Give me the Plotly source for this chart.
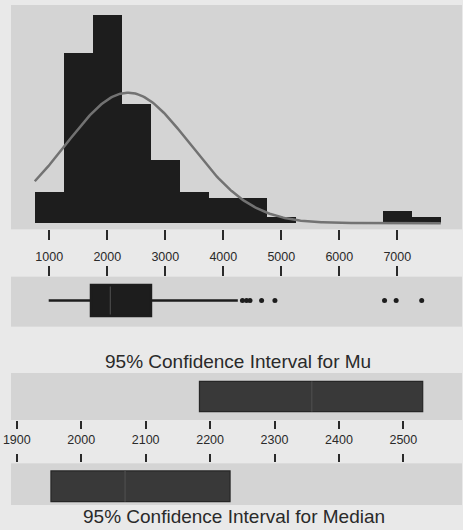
import numpy as np
import plotly.graph_objects as go

# ---------------- data ----------------
bin_centers = [1000, 1500, 2000, 2500, 3000, 3500, 4000, 4500, 5000, 5500, 6000, 6500, 7000, 7500]
bin_counts = [5, 27, 33, 19, 10, 5, 4, 4, 1, 0, 0, 0, 2, 1]
bin_width = 500

# fitted normal curve parameters
fit_mean = 2358
fit_sd = 1068
fit_n = sum(bin_counts)
curve_from, curve_to = 750, 7750

# box plot statistics
box_q1 = 1719
box_median = 2052
box_q3 = 2753
box_low = 990
box_high = 4250
outliers = [4330, 4400, 4460, 4660, 4890, 6780, 6980, 7420]

# confidence intervals
mu_ci = [2183.5, 2530]
mu_est = 2358
med_ci = [1953, 2231]
med_est = 2068

hist_ticks = [1000, 2000, 3000, 4000, 5000, 6000, 7000]
ci_ticks = [1900, 2000, 2100, 2200, 2300, 2400, 2500]

title_mu = "95% Confidence Interval for Mu"
title_med = "95% Confidence Interval for Median"

# ---------------- styling ----------------
W, H = 463, 530
PAPER = "#e9e9e9"
PANEL = "#d4d4d4"
BAR = "#1d1d1d"
CURVE = "#727272"
CIFILL = "#393939"
TXT = "#2a2a2a"
FONT = "Liberation Sans, Arial, sans-serif"


def py(pix):
    return 1 - pix / H


xdom = [11 / W, 462 / W]

fig = go.Figure()

# histogram
fig.add_trace(go.Bar(x=bin_centers, y=bin_counts, width=bin_width,
                     marker=dict(color=BAR, line=dict(width=0)),
                     xaxis="x", yaxis="y", showlegend=False))

# fitted normal curve
cx = np.linspace(curve_from, curve_to, 300)
cy = fit_n * bin_width / (fit_sd * np.sqrt(2 * np.pi)) * np.exp(-0.5 * ((cx - fit_mean) / fit_sd) ** 2)
fig.add_trace(go.Scatter(x=cx, y=cy, mode="lines", line=dict(color=CURVE, width=2.5),
                         xaxis="x", yaxis="y", showlegend=False))

# box plot
box_y = 0.05
box_w = 1.24
fig.add_trace(go.Box(q1=[box_q1], median=[box_median], q3=[box_q3],
                     lowerfence=[box_low], upperfence=[box_high], y=[box_y],
                     orientation="h", width=box_w, whiskerwidth=0,
                     fillcolor=BAR, line=dict(color=BAR, width=2.5),
                     xaxis="x2", yaxis="y2", showlegend=False, hoverinfo="skip"))
fig.add_trace(go.Scatter(x=[box_median, box_median], y=[box_y - box_w / 2 + 0.06, box_y + box_w / 2 - 0.06],
                         mode="lines", line=dict(color="#4a4a4a", width=1.2),
                         xaxis="x2", yaxis="y2", showlegend=False))
fig.add_trace(go.Scatter(x=outliers, y=[box_y] * len(outliers), mode="markers",
                         marker=dict(color=BAR, size=5),
                         xaxis="x2", yaxis="y2", showlegend=False))

# CI for mu
mu_y, mu_w = 0.0, 1.28
fig.add_trace(go.Box(q1=[mu_ci[0]], median=[mu_est], q3=[mu_ci[1]],
                     lowerfence=[mu_ci[0]], upperfence=[mu_ci[1]], y=[mu_y],
                     orientation="h", width=mu_w, whiskerwidth=0,
                     fillcolor=CIFILL, line=dict(color="#262626", width=1.2),
                     xaxis="x3", yaxis="y3", showlegend=False, hoverinfo="skip"))
fig.add_trace(go.Scatter(x=[mu_est, mu_est], y=[mu_y - mu_w / 2, mu_y + mu_w / 2],
                         mode="lines", line=dict(color="#555555", width=1.2),
                         xaxis="x3", yaxis="y3", showlegend=False))

# CI for median
med_y, med_w = -0.1, 1.47
fig.add_trace(go.Box(q1=[med_ci[0]], median=[med_est], q3=[med_ci[1]],
                     lowerfence=[med_ci[0]], upperfence=[med_ci[1]], y=[med_y],
                     orientation="h", width=med_w, whiskerwidth=0,
                     fillcolor=CIFILL, line=dict(color="#262626", width=1.2),
                     xaxis="x4", yaxis="y4", showlegend=False, hoverinfo="skip"))
fig.add_trace(go.Scatter(x=[med_est, med_est], y=[med_y - med_w / 2, med_y + med_w / 2],
                         mode="lines", line=dict(color="#555555", width=1.2),
                         xaxis="x4", yaxis="y4", showlegend=False))

tickfont = dict(family=FONT, size=12.5, color=TXT)
hidden_y = dict(showticklabels=False, showgrid=False, zeroline=False, showline=False,
                ticks="", automargin=False)
common_x = dict(showgrid=False, zeroline=False, showline=False, automargin=False,
                tickwidth=1.5, tickcolor=TXT, ticks="outside")

fig.update_layout(
    width=W, height=H, autosize=False,
    margin=dict(l=0, r=0, t=0, b=0, pad=0, autoexpand=False),
    paper_bgcolor=PAPER, plot_bgcolor=PANEL,
    bargap=0,
    xaxis=dict(domain=xdom, range=[340, 8115], anchor="y", tickvals=hist_ticks,
               ticklen=10, showticklabels=False, **common_x),
    yaxis=dict(domain=[py(229.3), py(5)], range=[-0.952, 34.65], anchor="x", **hidden_y),
    xaxis2=dict(domain=xdom, matches="x", anchor="y2", side="top", tickvals=hist_ticks,
                ticklen=10, showticklabels=True, tickfont=tickfont, **common_x),
    yaxis2=dict(domain=[py(326.7), py(276.7)], range=[-1, 1], anchor="x2", **hidden_y),
    xaxis3=dict(domain=xdom, range=[1891, 2591], anchor="y3", tickvals=ci_ticks,
                ticklen=8, showticklabels=True, tickfont=tickfont, **common_x),
    yaxis3=dict(domain=[py(420), py(373)], range=[-1, 1], anchor="x3", **hidden_y),
    xaxis4=dict(domain=xdom, matches="x3", anchor="y4", side="top", tickvals=ci_ticks,
                ticklen=8, showticklabels=False, **common_x),
    yaxis4=dict(domain=[py(505), py(463.3)], range=[-1, 1], anchor="x4", **hidden_y),
    annotations=[
        dict(text=title_mu, x=238.3 / W, y=py(361.3), xref="paper", yref="paper",
             xanchor="center", yanchor="middle", showarrow=False,
             font=dict(family=FONT, size=19, color=TXT)),
        dict(text=title_med, x=234 / W, y=py(516.7), xref="paper", yref="paper",
             xanchor="center", yanchor="middle", showarrow=False,
             font=dict(family=FONT, size=19, color=TXT)),
    ],
)

fig.write_html("out.html", config={"displayModeBar": False},
               post_script="document.body.style.margin='0';document.body.style.padding='0';")
